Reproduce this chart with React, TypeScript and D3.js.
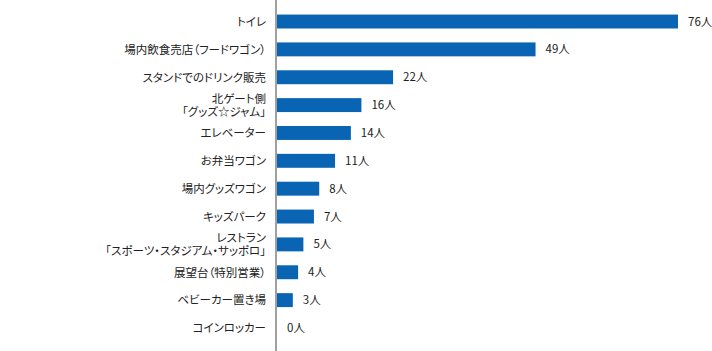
import React, { useEffect, useRef } from 'react';
import * as d3 from 'd3';

const categories = [
  'トイレ',
  '場内飲食売店（フードワゴン）',
  'スタンドでのドリンク販売',
  '北ゲート側\n「グッズ☆ジャム」',
  'エレベーター',
  'お弁当ワゴン',
  '場内グッズワゴン',
  'キッズパーク',
  'レストラン\n「スポーツ・スタジアム・サッポロ」',
  '展望台（特別営業）',
  'ベビーカー置き場',
  'コインロッカー',
];
const counts = [76, 49, 22, 16, 14, 11, 8, 7, 5, 4, 3, 0];
const unit = '人';

const W = 712;
const H = 351;

const App = () => {
  const svgRef = useRef<SVGSVGElement>(null);

  useEffect(() => {
    const svg = d3.select(svgRef.current);
    svg.selectAll('*').remove();

    const axisX = 276;
    const x = d3.scaleLinear().domain([0, 76]).range([axisX + 1, 678]);
    const y = d3.scaleBand<number>()
      .domain(d3.range(categories.length))
      .range([7.6, 341.9])
      .paddingInner(0.5)
      .paddingOuter(0.25);

    const font = '"Noto Sans CJK JP", "Noto Sans", sans-serif';
    const fs = 11.5;

    svg.append('g')
      .selectAll('rect')
      .data(counts)
      .enter()
      .append('rect')
      .attr('x', x(0))
      .attr('y', (d, i) => y(i))
      .attr('width', (d) => x(d) - x(0))
      .attr('height', y.bandwidth())
      .attr('fill', '#0a64b4');

    svg.append('g')
      .selectAll('text')
      .data(counts)
      .enter()
      .append('text')
      .attr('x', (d) => x(d) + 10)
      .attr('y', (d, i) => y(i) + y.bandwidth() / 2)
      .attr('dy', '0.35em')
      .attr('font-family', font)
      .attr('font-size', fs)
      .attr('fill', '#222')
      .style('font-feature-settings', '"palt"')
      .text((d) => d + unit);

    const labels = svg.append('g')
      .selectAll('text')
      .data(categories)
      .enter()
      .append('text')
      .attr('text-anchor', 'end')
      .attr('font-family', font)
      .attr('font-size', fs)
      .attr('fill', '#222')
      .style('font-feature-settings', '"palt"')
      .attr('y', (d, i) => y(i) + y.bandwidth() / 2);

    // two-line labels get stacked around the bar centre
    labels.each(function (d) {
      const lines = d.split('\n');
      const t = d3.select(this);
      lines.forEach((line, j) => {
        t.append('tspan')
          .attr('x', 266)
          .attr('dy', j === 0 ? `${0.38 - (lines.length - 1) * 0.57}em` : '1.14em')
          .text(line);
      });
    });

    svg.append('line')
      .attr('x1', axisX)
      .attr('x2', axisX)
      .attr('y1', 0)
      .attr('y2', H)
      .attr('stroke', '#808080')
      .attr('stroke-width', 1.5);
  }, []);

  return (
    <svg
      ref={svgRef}
      width={W}
      height={H}
      style={{ position: 'absolute', left: 0, top: 0, background: '#fff' }}
    ></svg>
  );
};

export default App;
